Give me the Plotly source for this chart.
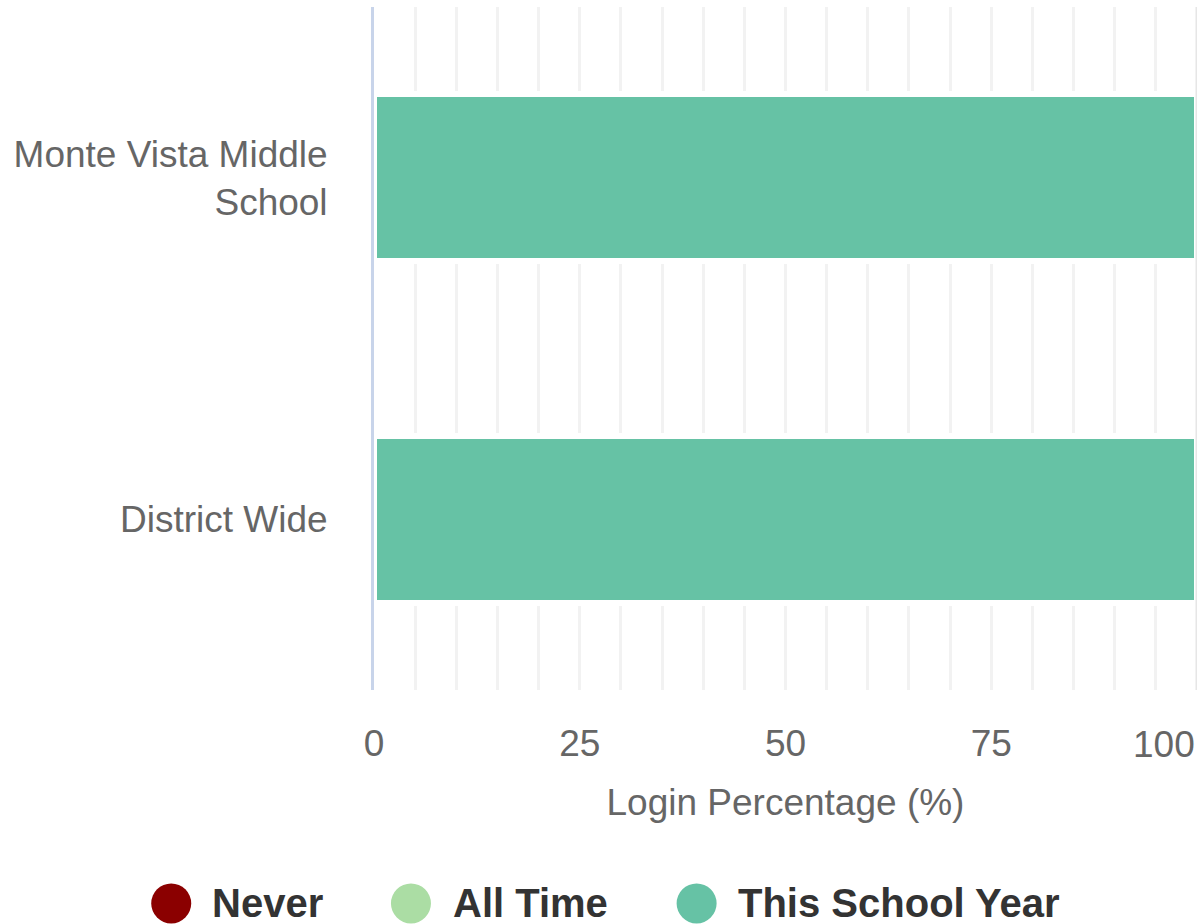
import plotly.graph_objects as go

# ---- data ----
categories = ["District Wide", "Monte Vista Middle School"]
category_labels = ["District Wide", "Monte Vista Middle<br>School"]
never = [0, 0]
all_time = [0, 0]
this_school_year = [100, 100]

series_names = ["Never", "All Time", "This School Year"]
series_colors = ["#8b0000", "#abdda4", "#66c2a5"]
series_values = [never, all_time, this_school_year]

x_tick_vals = [0, 25, 50, 75, 100]
x_tick_text = ["0", "25", "50", "75", "100"]

FONT = "Liberation Sans, Arial, Helvetica, sans-serif"

fig = go.Figure()
for name, color, vals in zip(series_names, series_colors, series_values):
    fig.add_trace(go.Bar(
        y=categories, x=vals, name=name, orientation="h",
        marker=dict(color=color,
                    line=dict(color="white", width=6 if max(vals) > 0 else 0)),
        width=0.49, showlegend=False,
    ))

# legend drawn as circles + bold labels below the plot
legend_circle_x = [-0.2464, 0.0449, 0.3920]
legend_text_x = [-0.1990, 0.0935, 0.4393]
legend_y = -0.3125
shapes = []
annotations = []
for name, color, cx, tx in zip(series_names, series_colors, legend_circle_x, legend_text_x):
    shapes.append(dict(type="circle", xref="paper", yref="paper",
                       xsizemode="pixel", ysizemode="pixel",
                       xanchor=cx, yanchor=legend_y,
                       x0=-20, x1=20, y0=-20, y1=20,
                       fillcolor=color, line=dict(width=0)))
    annotations.append(dict(text="<b>%s</b>" % name, xref="paper", yref="paper",
                            x=tx, y=legend_y, xanchor="left", yanchor="middle",
                            showarrow=False,
                            font=dict(family=FONT, size=40, color="#333333")))

# last tick label kept inside the plot edge (right-aligned at its tick)
annotations.append(dict(text=x_tick_text[-1], xref="x", yref="paper",
                        x=x_tick_vals[-1], y=0, xanchor="right", yanchor="top",
                        yshift=-32, xshift=0, showarrow=False,
                        font=dict(family=FONT, size=37, color="#666666")))

# right boundary line at 100
shapes.append(dict(type="line", xref="x", yref="paper", x0=100, x1=100, y0=0, y1=1,
                   line=dict(color="#e6e6e6", width=3), layer="above"))

fig.update_layout(
    barmode="stack",
    width=1203, height=924,
    margin=dict(l=374, r=6, t=7, b=234),
    plot_bgcolor="white", paper_bgcolor="white",
    font=dict(family=FONT, size=37, color="#666666"),
    shapes=shapes, annotations=annotations,
    showlegend=False,
)
fig.update_xaxes(
    range=[0, 100], tickvals=x_tick_vals[:-1], ticktext=x_tick_text[:-1],
    showgrid=True, gridcolor="#f2f2f2", gridwidth=3,
    minor=dict(dtick=5, showgrid=True, gridcolor="#f2f2f2", gridwidth=3),
    zeroline=False, showline=False, ticks="",
    ticklabelstandoff=28,
    tickfont=dict(family=FONT, size=37, color="#666666"),
    title=dict(text="Login Percentage (%)", standoff=26,
               font=dict(family=FONT, size=37, color="#666666")),
    fixedrange=True,
)
fig.update_yaxes(
    categoryorder="array", categoryarray=categories,
    tickvals=categories, ticktext=category_labels,
    showgrid=False, zeroline=False,
    showline=True, linecolor="#c8d4ea", linewidth=3,
    ticks="", ticklabelstandoff=36,
    tickfont=dict(family=FONT, size=37, color="#666666"),
    fixedrange=True,
)

fig.write_html("out.html")
